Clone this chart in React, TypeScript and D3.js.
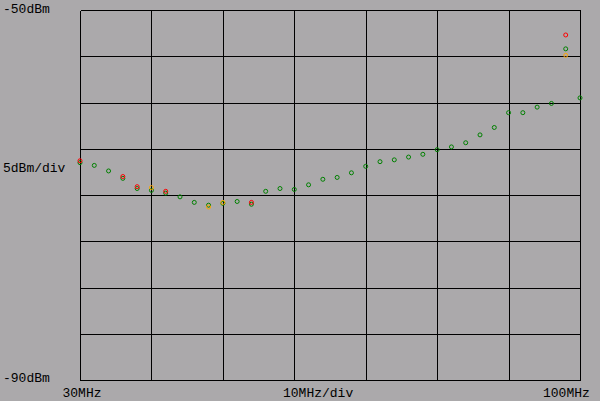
import React from "react";
import * as d3 from "d3";

const freqs: number[] = [30, 32, 34, 36, 38, 40, 42, 44, 46, 48, 50, 52, 54, 56, 58, 60, 62, 64, 66, 68, 70, 72, 74, 76, 78, 80, 82, 84, 86, 88, 90, 92, 94, 96, 98, 100];
const greenLevels: number[] = [-66.5, -66.8, -67.4, -68.2, -69.3, -69.5, -69.8, -70.2, -70.8, -71.1, -70.9, -70.7, -71.0, -69.6, -69.3, -69.4, -68.9, -68.3, -68.1, -67.6, -66.9, -66.4, -66.2, -65.9, -65.6, -65.1, -64.8, -64.35, -63.5, -62.7, -61.1, -61.1, -60.5, -60.1, -54.2, -59.5];
const redFreqs: number[] = [30, 36, 38, 42, 54, 98];
const redLevels: number[] = [-66.3, -68.0, -69.1, -69.6, -70.8, -52.7];
const orangeFreqs: number[] = [40, 48, 50, 98];
const orangeLevels: number[] = [-69.2, -71.3, -70.8, -54.9];

const xTicks: number[] = [30, 40, 50, 60, 70, 80, 90, 100];
const yTicks: number[] = [-90, -85, -80, -75, -70, -65, -60, -55, -50];

const W = 600;
const H = 401;
const BG = "#aba9ab";
const FONT = "'Liberation Mono', 'DejaVu Sans Mono', monospace";

export default function App() {
  const x = d3.scaleLinear().domain([30, 100]).range([80, 580]);
  const y = d3.scaleLinear().domain([-90, -50]).range([380, 10]);
  const px = (v: number) => Math.round(v) + 0.5;

  const green = freqs.map((f, i) => ({ f, v: greenLevels[i] }));
  const red = redFreqs.map((f, i) => ({ f, v: redLevels[i] }));
  const orange = orangeFreqs.map((f, i) => ({ f, v: orangeLevels[i] }));

  const marker = (d: { f: number; v: number }, color: string, key: string) => (
    <circle key={key} cx={x(d.f)} cy={y(d.v)} r={2} fill="none" stroke={color} strokeWidth={1} />
  );

  return (
    <svg width={W} height={H} style={{ position: "absolute", left: 0, top: 0, display: "block" }}>
      <rect x={0} y={0} width={W} height={H} fill={BG} />
      <g shapeRendering="crispEdges" stroke="#000" strokeWidth={1}>
        {xTicks.map((t) => (
          <line key={"vx" + t} x1={px(x(t))} x2={px(x(t))} y1={px(y(-50))} y2={px(y(-90))} />
        ))}
        {yTicks.map((t) => (
          <line key={"hy" + t} x1={px(x(30))} x2={px(x(100))} y1={px(y(t))} y2={px(y(t))} />
        ))}
      </g>
      <g>
        {green.map((d, i) => marker(d, "#008000", "g" + i))}
        {red.map((d, i) => marker(d, "#ff0000", "r" + i))}
        {orange.map((d, i) => marker(d, "#ffa500", "o" + i))}
      </g>
      <g fontFamily={FONT} fontSize={13} fill="#000">
        <text x={3} y={13}>-50dBm</text>
        <text x={3} y={172}>5dBm/div</text>
        <text x={3} y={382}>-90dBm</text>
        <text x={62.5} y={397}>30MHz</text>
        <text x={283} y={397}>10MHz/div</text>
        <text x={543} y={397}>100MHz</text>
      </g>
    </svg>
  );
}
